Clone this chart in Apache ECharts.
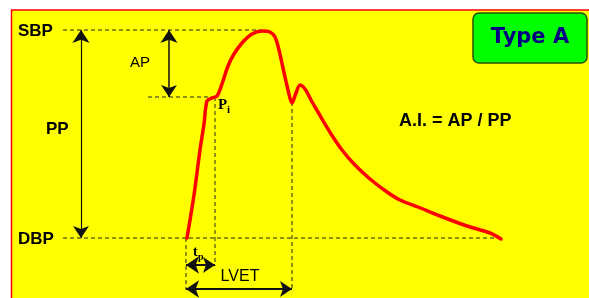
<!DOCTYPE html>
<html>
<head>
<meta charset="utf-8">
<script src="https://cdn.jsdelivr.net/npm/echarts@6/dist/echarts.min.js"></script>
<style>
html, body { margin: 0; padding: 0; background: #fff; }
#main { width: 589px; height: 298px; }
</style>
</head>
<body>
<div id="main"></div>
<script>
// pressure pulse (x = time, y = screen level, top is high)
const pulse = [
  [187, 238], [194, 195], [200, 150], [204, 124], [207, 101], [212, 98], [217, 96],
  [222, 84], [228, 66], [234, 54], [242, 43], [252, 34], [262, 31], [270, 32],
  [275, 37], [279, 50], [283, 68], [288, 90], [292, 103], [296, 93], [300, 85],
  [305, 89], [311, 100], [318, 112], [325, 124], [333, 137], [342, 150],
  [354, 164], [370, 179], [387, 192], [400, 200], [418, 207], [440, 216],
  [467, 226], [490, 233], [501, 239]
]

// reference levels and instants
const sbp = 30
const inflection = 97
const dbp = 238
const tStart = 186
const tPi = 215
const tEnd = 292

// dashed guide lines
const guides = [
  [[63, sbp], [262, sbp]],
  [[148, inflection], [tPi, inflection]],
  [[63, dbp], [500, dbp]],
  [[tPi, inflection], [tPi, 266]],
  [[tEnd, 102], [tEnd, 290]],
  [[tStart, dbp], [tStart, 290]]
]

// double headed arrows
const arrows = [
  { coords: [[81, sbp], [81, dbp]], w: 1.2 },
  { coords: [[169, sbp], [169, inflection]], w: 1.5 },
  { coords: [[tStart, 265], [tPi, 265]], w: 2 },
  { coords: [[tStart, 289], [tEnd, 289]], w: 2 }
]

const chart = echarts.init(document.getElementById('main'))

const guideSeries = guides.map(g => ({
  type: 'line',
  data: g,
  symbol: 'none',
  silent: true,
  z: 3,
  lineStyle: { color: '#222', width: 1, type: [4, 3] }
}))

const arrowSeries = arrows.map(a => ({
  type: 'lines',
  coordinateSystem: 'cartesian2d',
  symbol: ['arrow', 'arrow'],
  symbolSize: [13, 12],
  z: 4,
  lineStyle: { color: '#111', width: a.w, opacity: 1 },
  itemStyle: { color: '#000' },
  data: [{ coords: a.coords }]
}))

const bold = 'bold 17px "Liberation Sans", Arial, sans-serif'

chart.setOption({
  backgroundColor: '#ffffff',
  animation: false,
  grid: { left: 0, right: 0, top: 0, bottom: 0 },
  xAxis: { type: 'value', min: 0, max: 589, show: false },
  yAxis: { type: 'value', min: 0, max: 298, inverse: true, show: false },
  graphic: [
    { type: 'rect', z: -10, shape: { x: 11, y: 10, width: 578, height: 288 }, style: { fill: '#ffff00' } },
    { type: 'line', z: -9, shape: { x1: 11, y1: 10, x2: 589, y2: 10 }, style: { stroke: '#ff0000', lineWidth: 1.5 } },
    { type: 'line', z: -9, shape: { x1: 11.5, y1: 10, x2: 11.5, y2: 298 }, style: { stroke: '#ff0000', lineWidth: 1.5 } },
    { type: 'rect', z: 10, shape: { x: 473, y: 13, width: 114, height: 50, r: 6 },
      style: { fill: '#00ff00', stroke: '#2d4d00', lineWidth: 1.5 } },
    { type: 'text', z: 11, x: 530, y: 38, style: { text: 'Type A', fill: '#000080',
      font: 'bold 21px "DejaVu Sans", sans-serif', align: 'center', verticalAlign: 'middle' } },
    { type: 'text', z: 11, x: 18, y: 31, style: { text: 'SBP', font: bold, fill: '#000', verticalAlign: 'middle' } },
    { type: 'text', z: 11, x: 18, y: 239, style: { text: 'DBP', font: bold, fill: '#000', verticalAlign: 'middle' } },
    { type: 'text', z: 11, x: 46, y: 129, style: { text: 'PP', font: bold, fill: '#000', verticalAlign: 'middle' } },
    { type: 'text', z: 11, x: 130, y: 63, style: { text: 'AP', font: '15px "Liberation Sans", Arial, sans-serif', fill: '#000', verticalAlign: 'middle' } },
    { type: 'text', z: 11, x: 399, y: 121, style: { text: 'A.I. = AP / PP', font: 'bold 18px "Liberation Sans", Arial, sans-serif', fill: '#000', verticalAlign: 'middle' } },
    { type: 'text', z: 11, x: 240, y: 277, style: { text: 'LVET', font: '16px "Liberation Sans", Arial, sans-serif', fill: '#000', align: 'center', verticalAlign: 'middle' } },
    { type: 'text', z: 11, x: 218, y: 105, style: { text: 'P', font: 'bold 15px "Liberation Serif", serif', fill: '#000', verticalAlign: 'middle' } },
    { type: 'text', z: 11, x: 227, y: 110, style: { text: 'i', font: 'bold 11px "Liberation Serif", serif', fill: '#000', verticalAlign: 'middle' } },
    { type: 'text', z: 11, x: 193, y: 252, style: { text: 't', font: 'bold 14px "Liberation Serif", serif', fill: '#000', verticalAlign: 'middle' } },
    { type: 'text', z: 11, x: 198, y: 257, style: { text: 'p', font: 'bold 10px "Liberation Serif", serif', fill: '#000', verticalAlign: 'middle' } }
  ],
  series: [
    ...guideSeries,
    ...arrowSeries,
    {
      type: 'line',
      data: pulse,
      symbol: 'none',
      smooth: 0.3,
      z: 5,
      lineStyle: { color: '#ff0000', width: 3.5, cap: 'round', join: 'round' }
    }
  ]
})
</script>
</body>
</html>
